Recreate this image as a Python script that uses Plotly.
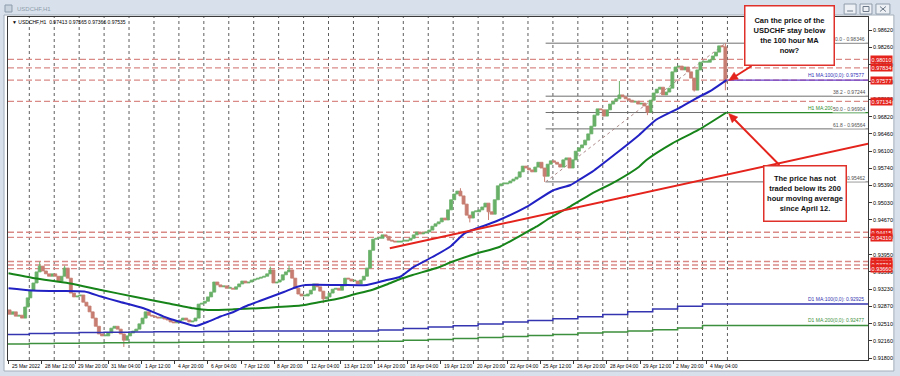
import math
import plotly.graph_objects as go

# ---------------------------------------------------------------- data ----
x_tick_labels = ["25 Mar 2022", "28 Mar 12:00", "29 Mar 20:00", "31 Mar 04:00", "1 Apr 12:00",
                 "4 Apr 20:00", "6 Apr 04:00", "7 Apr 12:00", "8 Apr 20:00", "12 Apr 04:00",
                 "13 Apr 12:00", "14 Apr 20:00", "18 Apr 04:00", "19 Apr 12:00", "20 Apr 20:00",
                 "22 Apr 04:00", "25 Apr 12:00", "26 Apr 20:00", "28 Apr 04:00", "29 Apr 12:00",
                 "2 May 20:00", "4 May 04:00"]
trading_days = ["25 Mar", "28 Mar", "29 Mar", "30 Mar", "31 Mar", "1 Apr", "4 Apr", "5 Apr", "6 Apr",
                "7 Apr", "8 Apr", "11 Apr", "12 Apr", "13 Apr", "14 Apr", "15 Apr", "18 Apr", "19 Apr",
                "20 Apr", "21 Apr", "22 Apr", "25 Apr", "26 Apr", "27 Apr", "28 Apr", "29 Apr",
                "2 May", "3 May", "4 May"]

# USDCHF closes, one per 3 hours (25 Mar from 04:00, then 8 per day)
first_open = 0.9280
close_3h = [
    0.9271, 0.9276, 0.9267, 0.9269, 0.9263, 0.9286, 0.9305,                  # 25 Mar
    0.9321, 0.9336, 0.9359, 0.9371, 0.9361, 0.9355, 0.9350, 0.9355,          # 28 Mar
    0.9350, 0.9340, 0.9350, 0.9367, 0.9346, 0.9315, 0.9307, 0.9309,          # 29 Mar
    0.9311, 0.9296, 0.9288, 0.9276, 0.9263, 0.9246, 0.9230, 0.9226,          # 30 Mar
    0.9226, 0.9232, 0.9242, 0.9246, 0.9240, 0.9230, 0.9217, 0.9226,          # 31 Mar
    0.9232, 0.9236, 0.9240, 0.9251, 0.9263, 0.9276, 0.9269, 0.9267,          # 1 Apr
    0.9265, 0.9263, 0.9265, 0.9261, 0.9259, 0.9255, 0.9253, 0.9257,          # 4 Apr
    0.9259, 0.9263, 0.9259, 0.9255, 0.9257, 0.9263, 0.9292, 0.9294,          # 5 Apr
    0.9298, 0.9307, 0.9317, 0.9338, 0.9332, 0.9328, 0.9330, 0.9325,          # 6 Apr
    0.9325, 0.9323, 0.9328, 0.9334, 0.9340, 0.9336, 0.9338, 0.9342,          # 7 Apr
    0.9344, 0.9346, 0.9348, 0.9350, 0.9355, 0.9363, 0.9336, 0.9338,          # 8 Apr
    0.9342, 0.9353, 0.9359, 0.9363, 0.9346, 0.9325, 0.9313, 0.9309,          # 11 Apr
    0.9309, 0.9313, 0.9321, 0.9334, 0.9328, 0.9319, 0.9303, 0.9307,          # 12 Apr
    0.9315, 0.9323, 0.9325, 0.9321, 0.9330, 0.9346, 0.9344, 0.9340,          # 13 Apr
    0.9340, 0.9334, 0.9342, 0.9350, 0.9367, 0.9404, 0.9427, 0.9429,          # 14 Apr
    0.9429, 0.9436, 0.9433, 0.9425, 0.9423, 0.9421, 0.9421, 0.9423,          # 15 Apr
    0.9423, 0.9425, 0.9429, 0.9436, 0.9442, 0.9438, 0.9440, 0.9442,          # 18 Apr
    0.9446, 0.9454, 0.9459, 0.9463, 0.9471, 0.9467, 0.9488, 0.9509,          # 19 Apr
    0.9521, 0.9527, 0.9517, 0.9500, 0.9477, 0.9471, 0.9484, 0.9484,          # 20 Apr
    0.9488, 0.9494, 0.9502, 0.9484, 0.9479, 0.9509, 0.9538, 0.9542,          # 21 Apr
    0.9542, 0.9544, 0.9548, 0.9552, 0.9556, 0.9567, 0.9579, 0.9575,          # 22 Apr
    0.9571, 0.9567, 0.9577, 0.9587, 0.9575, 0.9558, 0.9583, 0.9590,          # 25 Apr
    0.9587, 0.9583, 0.9577, 0.9592, 0.9596, 0.9575, 0.9592, 0.9610,          # 26 Apr
    0.9617, 0.9623, 0.9633, 0.9646, 0.9662, 0.9685, 0.9698, 0.9696,          # 27 Apr
    0.9683, 0.9696, 0.9708, 0.9714, 0.9719, 0.9727, 0.9723, 0.9719,          # 28 Apr
    0.9716, 0.9712, 0.9714, 0.9708, 0.9710, 0.9704, 0.9691, 0.9716,          # 29 Apr
    0.9731, 0.9739, 0.9743, 0.9727, 0.9733, 0.9741, 0.9775, 0.9785,          # 2 May
    0.9787, 0.9779, 0.9785, 0.9775, 0.9762, 0.9737, 0.9779, 0.9795,          # 3 May
    0.9795, 0.9795, 0.9800, 0.9808, 0.9816, 0.9829, 0.9827, 0.97535,         # 4 May
]
spike_high = {10: 0.9380, 18: 0.9372, 84: 0.9370, 90: 0.9372, 145: 0.9533, 196: 0.9756, 230: 0.98346}
spike_low = {37: 0.9203, 101: 0.9294, 148: 0.9462, 154: 0.9467, 172: 0.95462, 205: 0.9685,
             220: 0.9734, 230: 0.97366}

# H1 moving averages (hour index from 25 Mar 04:00, price)
ma100_h = [0, 22, 44, 73, 89, 106, 130, 153, 169, 180, 192, 204, 217, 230, 243, 265, 278, 286, 319, 345,
           364, 377, 389, 408, 425, 439, 451, 470, 500, 524, 541, 549, 562, 585, 607, 623, 645, 662, 677, 691]
ma100_p = [0.93249, 0.93203, 0.93193, 0.93182, 0.93078, 0.92974, 0.92833, 0.92631, 0.92527, 0.92465,
           0.92554, 0.92663, 0.92762, 0.92891, 0.92995, 0.93172, 0.93282, 0.93318, 0.93318, 0.93318,
           0.93422, 0.93490, 0.93681, 0.93900, 0.94114, 0.94393, 0.94497, 0.94648, 0.94960, 0.95283,
           0.95397, 0.95501, 0.95674, 0.96056, 0.96437, 0.96749, 0.96992, 0.97200, 0.97372, 0.97577]
ma200_h = [0, 25, 58, 89, 121, 153, 178, 192, 217, 249, 281, 300, 319, 334, 348, 364, 377, 389, 415, 425,
           449, 473, 492, 508, 518, 538, 559, 585, 607, 614, 639, 664, 691]
ma200_p = [0.93561, 0.93457, 0.93353, 0.93214, 0.93074, 0.92937, 0.92833, 0.92798, 0.92812, 0.92846,
           0.92891, 0.92964, 0.93041, 0.93130, 0.93203, 0.93328, 0.93442, 0.93526, 0.93692, 0.93785,
           0.93962, 0.94114, 0.94336, 0.94530, 0.94669, 0.94919, 0.95189, 0.95480, 0.95778, 0.95917,
           0.96264, 0.96541, 0.96904]

# D1 moving averages, one value per trading day
d1_ma100 = [0.92288, 0.92309, 0.92319, 0.92330, 0.92334, 0.92340, 0.92344, 0.92348, 0.92353, 0.92357,
            0.92361, 0.92361, 0.92361, 0.92361, 0.92361, 0.92382, 0.92411, 0.92444, 0.92473, 0.92509,
            0.92550, 0.92579, 0.92615, 0.92656, 0.92706, 0.92762, 0.92818, 0.92875, 0.92925]
d1_ma200 = [0.92091, 0.92101, 0.92107, 0.92111, 0.92116, 0.92120, 0.92124, 0.92128, 0.92132, 0.92135,
            0.92137, 0.92139, 0.92139, 0.92139, 0.92141, 0.92149, 0.92170, 0.92184, 0.92205, 0.92226,
            0.92249, 0.92269, 0.92290, 0.92319, 0.92340, 0.92361, 0.92388, 0.92423, 0.92477]

red_levels = [0.98010, 0.97834, 0.97577, 0.97134, 0.94415, 0.94310, 0.93806, 0.93734, 0.93660]
fib_levels = [0.98346, 0.97244, 0.96904, 0.96564, 0.95462]
fib_names = ["0.0", "38.2", "50.0", "61.8", "100.0"]
fib_start_h, fib_high_h = 517, 690
trend_h = [367, 828]
trend_p = [0.94081, 0.96258]
price_ticks = [0.98620, 0.98260, 0.97900, 0.97540, 0.97180, 0.96820, 0.96460, 0.96100, 0.95740, 0.95390,
               0.95030, 0.94670, 0.94310, 0.93950, 0.93590, 0.93230, 0.92870, 0.92510, 0.92160, 0.91800]
last_bar = "0.97413 0.97565 0.97366 0.97535"

# -------------------------------------------------------------- layout ----
W, H = 900, 376
ML, MR, MT, MB = 7, 29, 17, 16
PW, PH = W - ML - MR, H - MT - MB
PX_PER_H = 33.4 / 32


def PX(x):
    return (x - ML) / PW


def PY(y):
    return (H - MB - y) / PH


def price_at(ypx):
    return 0.98620 - (ypx - 30) * (0.98620 - 0.91800) / (358 - 30)


x_lo = -0.5
x_hi = x_lo + PW / PX_PER_H
y_lo, y_hi = price_at(H - MB), price_at(MT)
ONE_PX = (y_hi - y_lo) / PH   # doji bodies are drawn 1 px tall, as MT4 does

FONT = "Liberation Sans, Arial, sans-serif"
UP, DN = "#68b068", "#c77d71"
BLUE, GREEN, RED = "#2222c4", "#17841a", "#e4231c"

# bar geometry (3-hour bars)
bar_start = [0, 3, 6, 9, 12, 15, 18] + [20 + 24 * k + 3 * m for k in range(len(trading_days) - 1) for m in range(8)]
bar_len = [3] * 6 + [2] + [3] * (8 * (len(trading_days) - 1))
xc = [s + (n - 1) / 2 for s, n in zip(bar_start, bar_len)]
opens = [first_open] + close_3h[:-1]
day_start = [-4] + [20 + 24 * k for k in range(len(trading_days) - 1)]

fig = go.Figure()

for want_up, col in ((True, UP), (False, DN)):
    xs, bs, hs = [], [], []
    wx, wy = [], []
    for i, (o, c) in enumerate(zip(opens, close_3h)):
        if (c >= o) != want_up:
            continue
        body = max(abs(c - o), ONE_PX)
        xs.append(xc[i]); bs.append(min(o, c)); hs.append(body)
        if i in spike_high:
            wx += [xc[i], xc[i], None]; wy += [max(o, c), spike_high[i], None]
        if i in spike_low:
            wx += [xc[i], xc[i], None]; wy += [min(o, c), spike_low[i], None]
    fig.add_trace(go.Scatter(x=wx, y=wy, mode="lines", line=dict(color=col, width=1), hoverinfo="skip"))
    fig.add_trace(go.Bar(x=xs, y=hs, base=bs, width=2.9,
                         marker=dict(color=col, line=dict(width=0.8, color=col)), hoverinfo="skip"))

# D1 MAs (daily steps)
fig.add_trace(go.Scatter(x=day_start + [x_hi], y=d1_ma100 + [d1_ma100[-1]], mode="lines",
                         line=dict(color="#3434b0", width=1.5, shape="hv"), hoverinfo="skip"))
fig.add_trace(go.Scatter(x=day_start + [x_hi], y=d1_ma200 + [d1_ma200[-1]], mode="lines",
                         line=dict(color="#3c8f3c", width=1.5, shape="hv"), hoverinfo="skip"))
# H1 MA extensions
fig.add_trace(go.Scatter(x=[ma100_h[-1], x_hi], y=[ma100_p[-1]] * 2, mode="lines",
                         line=dict(color="#6a3cc8", width=1.3), hoverinfo="skip"))
fig.add_trace(go.Scatter(x=[ma200_h[-1], x_hi], y=[ma200_p[-1]] * 2, mode="lines",
                         line=dict(color="#2a8a2a", width=1.3), hoverinfo="skip"))
# H1 MAs
fig.add_trace(go.Scatter(x=ma200_h, y=ma200_p, mode="lines",
                         line=dict(color=GREEN, width=2, shape="spline", smoothing=0.6), hoverinfo="skip"))
fig.add_trace(go.Scatter(x=ma100_h, y=ma100_p, mode="lines",
                         line=dict(color=BLUE, width=2, shape="spline", smoothing=0.6), hoverinfo="skip"))
# trend line
fig.add_trace(go.Scatter(x=trend_h, y=trend_p, mode="lines", line=dict(color=RED, width=2), hoverinfo="skip"))

shapes = []
# white chart area
shapes.append(dict(type="rect", xref="paper", yref="paper", x0=PX(3), x1=PX(897), y0=PY(371), y1=PY(15),
                   fillcolor="white", line=dict(color="#a3aebb", width=1), layer="below"))
# daily grid
for k in range(len(trading_days)):
    shapes.append(dict(type="line", xref="x", yref="paper", x0=20 + 24 * k, x1=20 + 24 * k, y0=0, y1=1,
                       line=dict(color="#5e5e5e", width=1, dash="dot"), layer="below"))
# red dashed levels
for lv in red_levels:
    shapes.append(dict(type="line", xref="paper", yref="y", x0=0, x1=1, y0=lv, y1=lv,
                       line=dict(color="#d98a86", width=1.3, dash="6px,3px"), layer="below"))
# fibonacci
for lv in fib_levels:
    shapes.append(dict(type="line", xref="x", yref="y", x0=fib_start_h, x1=x_hi, y0=lv, y1=lv,
                       line=dict(color="#6e6e6e", width=1), layer="below"))
shapes.append(dict(type="line", xref="x", yref="y", x0=fib_start_h, x1=fib_high_h,
                   y0=fib_levels[-1], y1=fib_levels[0], line=dict(color="#b08c8c", width=1, dash="dot"),
                   layer="below"))


def arrow(x0, y0, x1, y1, color=RED, lw=2, hl=9, hw=4):
    dx, dy = x1 - x0, y1 - y0
    d = math.hypot(dx, dy)
    ux, uy = dx / d, dy / d
    bx, by = x1 - ux * hl, y1 - uy * hl
    nx, ny = -uy, ux
    out = [dict(type="line", xref="paper", yref="paper", x0=PX(x0), y0=PY(y0), x1=PX(bx + ux), y1=PY(by + uy),
                line=dict(color=color, width=lw), layer="above")]
    path = "M {:.5f},{:.5f} L {:.5f},{:.5f} L {:.5f},{:.5f} Z".format(
        PX(x1), PY(y1), PX(bx + nx * hw), PY(by + ny * hw), PX(bx - nx * hw), PY(by - ny * hw))
    out.append(dict(type="path", xref="paper", yref="paper", path=path, fillcolor=color,
                    line=dict(color=color, width=0.5), layer="above"))
    return out


shapes += arrow(754, 66, 731, 80.5)
shapes += arrow(782, 165, 731, 113.5)

# window chrome: title icon and buttons
shapes.append(dict(type="rect", xref="paper", yref="paper", x0=PX(4), x1=PX(11), y0=PY(12), y1=PY(5),
                   fillcolor="#c9d3de", line=dict(color="#8d9bab", width=1)))
for bx0, bx1 in ((847, 859), (863, 875), (879, 893)):
    shapes.append(dict(type="rect", xref="paper", yref="paper", x0=PX(bx0), x1=PX(bx1), y0=PY(14), y1=PY(4),
                       fillcolor="#edf1f6", line=dict(color="#909cab", width=1)))
shapes.append(dict(type="line", xref="paper", yref="paper", x0=PX(850), x1=PX(856), y0=PY(11), y1=PY(11),
                   line=dict(color="#6c7888", width=1)))
shapes.append(dict(type="rect", xref="paper", yref="paper", x0=PX(866), x1=PX(872), y0=PY(11.5), y1=PY(6.5),
                   line=dict(color="#6c7888", width=1)))
shapes.append(dict(type="line", xref="paper", yref="paper", x0=PX(883), x1=PX(889), y0=PY(6.5), y1=PY(11.5),
                   line=dict(color="#6c7888", width=1)))
shapes.append(dict(type="line", xref="paper", yref="paper", x0=PX(883), x1=PX(889), y0=PY(11.5), y1=PY(6.5),
                   line=dict(color="#6c7888", width=1)))

ann = []
small = dict(family=FONT, size=5, color="#000000")
# time labels
for i, t in enumerate(x_tick_labels):
    ann.append(dict(x=32 * i, y=PY(365.5), xref="x", yref="paper", text=t, showarrow=False,
                    xanchor="left", yanchor="middle", xshift=1, font=small))
# MA / fib labels
ann.append(dict(x=PX(869), y=ma200_p[-1], xref="paper", yref="y", text="H1 MA:200(0,0): 0.96904",
                showarrow=False, xanchor="right", yanchor="bottom", font=dict(family=FONT, size=5, color="#2a8a2a")))
for lv, nm in zip(fib_levels, fib_names):
    ann.append(dict(x=PX(869), y=lv, xref="paper", yref="y", text="{} - {:.5f}".format(nm, lv),
                    showarrow=False, xanchor="right", yanchor="bottom", bgcolor="white", borderpad=0,
                    font=dict(family=FONT, size=5, color="#505050")))
ann.append(dict(x=PX(869), y=ma100_p[-1], xref="paper", yref="y", text="H1 MA:100(0,0): 0.97577",
                showarrow=False, xanchor="right", yanchor="bottom", font=dict(family=FONT, size=5, color="#3030b8")))
ann.append(dict(x=PX(869), y=d1_ma100[-1], xref="paper", yref="y",
                text="D1 MA:100(0,0): {:.5f}".format(d1_ma100[-1]), showarrow=False, xanchor="right",
                yanchor="bottom", font=dict(family=FONT, size=5, color="#3434b0")))
ann.append(dict(x=PX(869), y=d1_ma200[-1], xref="paper", yref="y",
                text="D1 MA:200(0,0): {:.5f}".format(d1_ma200[-1]), showarrow=False, xanchor="right",
                yanchor="bottom", font=dict(family=FONT, size=5, color="#3c8f3c")))
# red price boxes on the axis
for lv in red_levels:
    ann.append(dict(x=PX(873), y=lv, xref="paper", yref="y", text="{:.5f}".format(lv), showarrow=False,
                    xanchor="left", yanchor="middle", bgcolor="#e4231c", borderpad=0.6,
                    font=dict(family=FONT, size=5.5, color="white")))
# callout boxes
ann.append(dict(x=PX(792.5), y=PY(36), xref="paper", yref="paper",
                text="<b>Can the price of the<br>USDCHF stay below<br>the 100 hour MA<br>now?</b>",
                showarrow=False, xanchor="center", yanchor="middle", align="center", width=88, height=58,
                bgcolor="white", bordercolor="#e0302a", borderwidth=1.5, borderpad=0,
                font=dict(family=FONT, size=7.5, color="#111111")))
ann.append(dict(x=PX(808), y=PY(193.5), xref="paper", yref="paper",
                text="<b>The price has not<br>traded below its 200<br>hour moving average<br>since April 12.</b>",
                showarrow=False, xanchor="center", yanchor="middle", align="center", width=81, height=54,
                bgcolor="white", bordercolor="#e0302a", borderwidth=1.5, borderpad=0,
                font=dict(family=FONT, size=7.5, color="#111111")))
# chart header and window title
ann.append(dict(x=PX(9), y=PY(22.5), xref="paper", yref="paper", text="▼ USDCHF,H1  " + last_bar,
                showarrow=False, xanchor="left", yanchor="middle", font=small))
ann.append(dict(x=PX(14), y=PY(8.5), xref="paper", yref="paper", text="USDCHF,H1", showarrow=False,
                xanchor="left", yanchor="middle", font=dict(family=FONT, size=6, color="#8f9dac")))

fig.update_layout(
    width=W, height=H, margin=dict(l=ML, r=MR, t=MT, b=MB),
    paper_bgcolor="#d8e1eb", plot_bgcolor="white", showlegend=False, barmode="overlay",
    hovermode=False, shapes=shapes, annotations=ann,
    xaxis=dict(range=[x_lo, x_hi], showgrid=False, zeroline=False, showline=True, mirror=True,
               linecolor="#3a3a3a", linewidth=1, ticks="outside", ticklen=3, tickcolor="#3a3a3a",
               tickvals=[32 * i for i in range(len(x_tick_labels))], showticklabels=False, fixedrange=True),
    yaxis=dict(range=[y_lo, y_hi], side="right", showgrid=False, zeroline=False, showline=True, mirror=True,
               linecolor="#3a3a3a", linewidth=1, ticks="outside", ticklen=3, tickcolor="#3a3a3a",
               tickvals=price_ticks, ticktext=["{:.5f}".format(v) for v in price_ticks],
               tickfont=dict(family=FONT, size=5.5, color="#000000"), fixedrange=True),
)

fig.write_html("out.html", config={"displayModeBar": False})
